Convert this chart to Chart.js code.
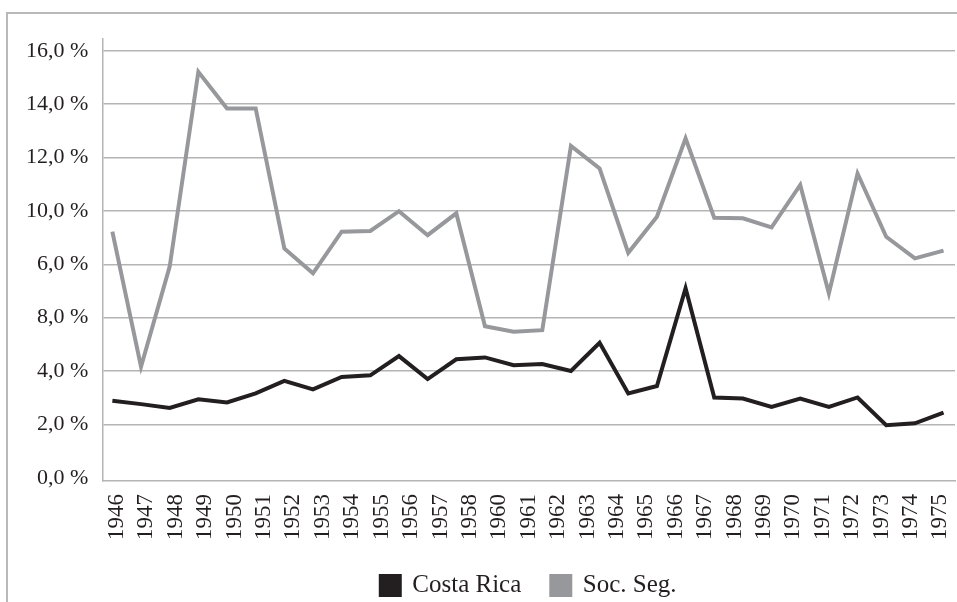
<!DOCTYPE html>
<html>
<head>
<meta charset="utf-8">
<script src="https://cdn.jsdelivr.net/npm/chart.js@4.4.1/dist/chart.umd.min.js"></script>
<style>
  html, body { margin: 0; padding: 0; background: #fff; }
  #wrap { position: absolute; left: 0; top: 0; width: 957px; height: 602px; }
  #frame { position: absolute; left: 6px; top: 12px; width: 957px; height: 600px;
           border-left: 2px solid #b9b9b9; border-top: 2px solid #b9b9b9; }
</style>
</head>
<body>
<div id="frame"></div>
<div id="wrap"><canvas id="chart"></canvas></div>
<script>
// years of the 30 data points (the printed axis skips 1959)
const years = [1946, 1947, 1948, 1949, 1950, 1951, 1952, 1953, 1954, 1955,
               1956, 1957, 1958, 1959, 1960, 1961, 1962, 1963, 1964, 1965,
               1966, 1967, 1968, 1969, 1970, 1971, 1972, 1973, 1974, 1975];
const axisLabels = ['1946', '1947', '1948', '1949', '1950', '1951', '1952', '1953', '1954', '1955',
                    '1956', '1957', '1958', '1960', '1961', '1962', '1963', '1964', '1965', '1966',
                    '1967', '1968', '1969', '1970', '1971', '1972', '1973', '1974', '1975'];
const costaRica = [2.89, 2.76, 2.62, 2.94, 2.82, 3.16, 3.63, 3.31, 3.78, 3.84,
                   4.56, 3.70, 4.44, 4.51, 4.22, 4.26, 4.00, 5.06, 3.16, 3.44,
                   7.10, 3.01, 2.97, 2.66, 2.97, 2.66, 3.01, 1.97, 2.04, 2.44];
const socSeg    = [9.22, 4.16, 7.91, 15.21, 13.84, 13.84, 8.59, 7.66, 9.22, 9.25,
                   9.99, 9.09, 9.91, 5.68, 5.47, 5.53, 12.43, 11.59, 8.43, 9.78,
                   12.72, 9.74, 9.72, 9.38, 10.97, 6.91, 11.40, 9.03, 8.22, 8.51];
// tick labels as printed (6 and 8 are swapped in the original)
const yTickLabels = ['0,0 %', '2,0 %', '4,0 %', '8,0 %', '6,0 %', '10,0 %', '12,0 %', '14,0 %', '16,0 %'];

const ink  = '#231f20';
const grey = '#97989b';
const rule = '#b4b4b4';
const serif = "'Liberation Serif', 'DejaVu Serif', serif";

const pts = arr => arr.map((v, i) => ({ x: i, y: v }));

new Chart(document.getElementById('chart'), {
  type: 'line',
  data: {
    labels: axisLabels,
    datasets: [
      { label: 'Costa Rica', data: pts(costaRica), xAxisID: 'xd',
        borderColor: ink, backgroundColor: ink, borderWidth: 4,
        pointRadius: 0, tension: 0, borderJoinStyle: 'miter' },
      { label: 'Soc. Seg.', data: pts(socSeg), xAxisID: 'xd',
        borderColor: grey, backgroundColor: grey, borderWidth: 4,
        pointRadius: 0, tension: 0, borderJoinStyle: 'miter' }
    ]
  },
  options: {
    responsive: true, maintainAspectRatio: false, animation: false,
    layout: { padding: { left: 12, top: 39, right: 2, bottom: -6 } },
    plugins: {
      tooltip: { enabled: false },
      legend: {
        position: 'bottom', fullSize: false,
        labels: { color: ink, font: { family: serif, size: 25 }, boxWidth: 19, boxHeight: 19, padding: 30 }
      }
    },
    scales: {
      x: {
        type: 'category', offset: true,
        grid: { display: false, drawTicks: false },
        border: { display: true, color: rule, width: 1.5 },
        ticks: { autoSkip: false, minRotation: 90, maxRotation: 90, padding: 13,
                 color: ink, font: { family: serif, size: 23 } },
        afterFit: s => { s.paddingLeft = 0; s.paddingRight = 0; s.height = 62; }
      },
      xd: {
        type: 'linear', display: false, min: -0.35, max: 29.4
      },
      y: {
        min: -0.12, max: 16.44,
        grid: { color: c => c.tick.value === 0 ? 'rgba(0,0,0,0)' : rule, lineWidth: 1.5, drawTicks: false },
        border: { display: true, color: rule, width: 1.5 },
        ticks: { stepSize: 2, includeBounds: false, padding: 14, color: ink,
                 font: { family: serif, size: 22 },
                 callback: (v) => yTickLabels[Math.round(v / 2)] }
      }
    }
  }
});
</script>
</body>
</html>
